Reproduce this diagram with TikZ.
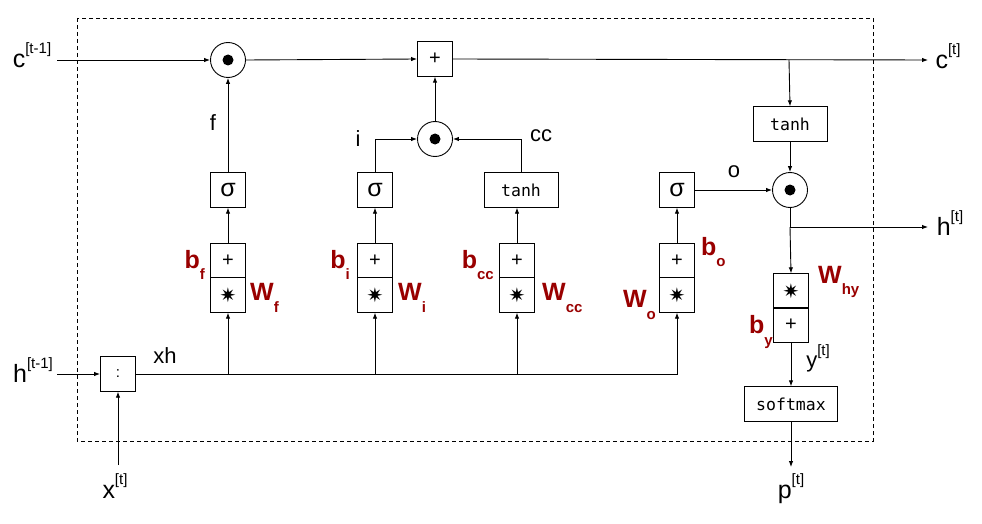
\documentclass[tikz,border=0pt]{standalone}
\usepackage{fontspec}
\setmainfont{Liberation Sans}
\setmonofont{DejaVu Sans Mono}
\newfontfamily\dejavu{DejaVu Sans}
\usetikzlibrary{arrows.meta}
\definecolor{wred}{HTML}{990000}
\newcommand{\psub}[1]{\raisebox{-0.45em}{\fontsize{15}{16}\selectfont #1}}
\newcommand{\psup}[1]{\raisebox{0.55em}{\fontsize{15}{16}\selectfont #1}}
\begin{document}
\begin{tikzpicture}[x=1pt,y=-1pt,
  ln/.style={line width=0.9pt},
  arr/.style={line width=0.9pt,-{Latex[length=6pt,width=4.5pt]}},
  box/.style={draw,line width=0.9pt,minimum width=35pt,minimum height=34.5pt,inner sep=0pt},
  wide/.style={box,minimum width=74pt},
  odot/.style={draw,circle,line width=0.9pt,minimum size=35pt,inner sep=0pt},
  lbl/.style={font=\fontsize{25}{26}\selectfont,inner sep=0pt},
  slbl/.style={font=\fontsize{22}{24}\selectfont,inner sep=0pt},
  prm/.style={font=\fontsize{25}{26}\selectfont\bfseries,text=wred,inner sep=0pt},
  mono/.style={font=\fontsize{16.5}{18}\selectfont\ttfamily},
  op/.style={font=\fontsize{20}{22}\selectfont},
  sig/.style={font=\fontsize{25}{26}\selectfont},
]
\useasboundingbox (0,0) rectangle (982,524);
\draw[dash pattern=on 4pt off 3pt, line width=0.8pt] (77,18) rectangle (873,441);

% nodes
\node[odot] (odf) at (228,60) {};
\node[box,op] (plus) at (435,59) {+};
\node[odot] (odi) at (435,139) {};
\node[odot] (odo) at (790,190) {};
\foreach \n in {odf,odi,odo} \fill (\n.center) circle (5.5);

\node[box,sig] (sigf) at (228,190) {σ};
\node[box,sig] (sigi) at (375,190) {σ};
\node[wide,mono] (tanhcc) at (521,190) {tanh};
\node[box,sig] (sigo) at (677,190) {σ};

\node[box,op] (bf) at (228,260.5) {+};
\node[box,op] (wf) at (228,295) {\dejavu ✷};
\node[box,op] (bi) at (375,260.5) {+};
\node[box,op] (wi) at (375,295) {\dejavu ✷};
\node[box,op] (bcc) at (517,260.5) {+};
\node[box,op] (wcc) at (517,295) {\dejavu ✷};
\node[box,op] (bo) at (677,260.5) {+};
\node[box,op] (wo) at (677,295) {\dejavu ✷};

\node[wide,mono] (tanhc) at (790,124) {tanh};
\node[box,op] (why) at (791,291) {\dejavu ✷};
\node[box,op] (by) at (791,325) {+};
\node[box,mono,minimum width=93pt] (soft) at (791,404) {softmax};
\node[box,font=\fontsize{15}{16}\selectfont] (cat) at (118,374) {:};

% outer labels
\node[lbl] (cin) at (32,55) {c\psup{[t-1]}};
\node[lbl] (cout) at (948,56) {c\psup{[t]}};
\node[lbl] (hin) at (33,370) {h\psup{[t-1]}};
\node[lbl] (hout) at (950,223) {h\psup{[t]}};
\node[lbl] (xin) at (115,486) {x\psup{[t]}};
\node[lbl] (pout) at (791,489) {p\psup{[t]}};

% inner labels
\node[slbl] (lf) at (213,123) {f};
\node[slbl] (li) at (358,139) {i};
\node[slbl] (lcc) at (541,136) {cc};
\node[slbl] (lo) at (734,172) {o};
\node[slbl] (lxh) at (165,356) {xh};
\node[slbl] (ly) at (818,358) {y\psup{[t]}};

% parameters
\node[prm,anchor=east] (pbf) at (205,265) {b\psub{f}};
\node[prm,anchor=west] (pwf) at (250,298) {W\psub{f}};
\node[prm,anchor=east] (pbi) at (350,265) {b\psub{i}};
\node[prm,anchor=west] (pwi) at (398,298) {W\psub{i}};
\node[prm,anchor=east] (pbcc) at (494,265) {b\psub{cc}};
\node[prm,anchor=west] (pwcc) at (542,298) {W\psub{cc}};
\node[prm,anchor=east] (pwo) at (656,305) {W\psub{o}};
\node[prm,anchor=west] (pbo) at (701,252) {b\psub{o}};
\node[prm,anchor=west] (pwhy) at (818,282) {W\psub{hy}};
\node[prm,anchor=east] (pby) at (773,332) {b\psub{y}};

% coordinates
\coordinate (cst) at (57,60);
\coordinate (cend) at (928,60);
\coordinate (cbr) at (789,60);
\coordinate (hbr) at (790,227);
\coordinate (hend) at (928,227);
\coordinate (hst) at (57,374);
\coordinate (xst) at (118,465);
\coordinate (pend) at (791,467);

% cell state path
\draw[arr] (cst) -- (odf.west);
\draw[arr] (odf.east) -- (plus.west);
\draw[arr] (plus.east) -- (cend);
\draw[arr] (cbr) -- (tanhc.north);
\draw[arr] (tanhc.south) -- (odo.north);
\draw[arr] (sigo.east) -- (odo.west);
\draw[ln] (odo.south) -- (hbr);
\draw[arr] (hbr) -- (hend);
\draw[arr] (hbr) -- (why.north);
\draw[arr] (by.south) -- (soft.north);
\draw[arr] (soft.south) -- (pend);

% gates
\draw[arr] (sigf.north) -- (odf.south);
\draw[arr] (odi.north) -- (plus.south);
\draw[arr] (sigi.north) |- (odi.west);
\draw[arr] (tanhcc.north) |- (odi.east);
\draw[arr] (bf.north) -- (sigf.south);
\draw[arr] (bi.north) -- (sigi.south);
\draw[arr] (bcc.north) -- (bcc.north |- tanhcc.south);
\draw[arr] (bo.north) -- (sigo.south);

% inputs
\draw[arr] (hst) -- (cat.west);
\draw[arr] (xst) -- (cat.south);
\draw[arr] (cat.east) -| (wo.south);
\draw[arr] (wf.south |- cat.east) -- (wf.south);
\draw[arr] (wi.south |- cat.east) -- (wi.south);
\draw[arr] (wcc.south |- cat.east) -- (wcc.south);
\end{tikzpicture}
\end{document}
